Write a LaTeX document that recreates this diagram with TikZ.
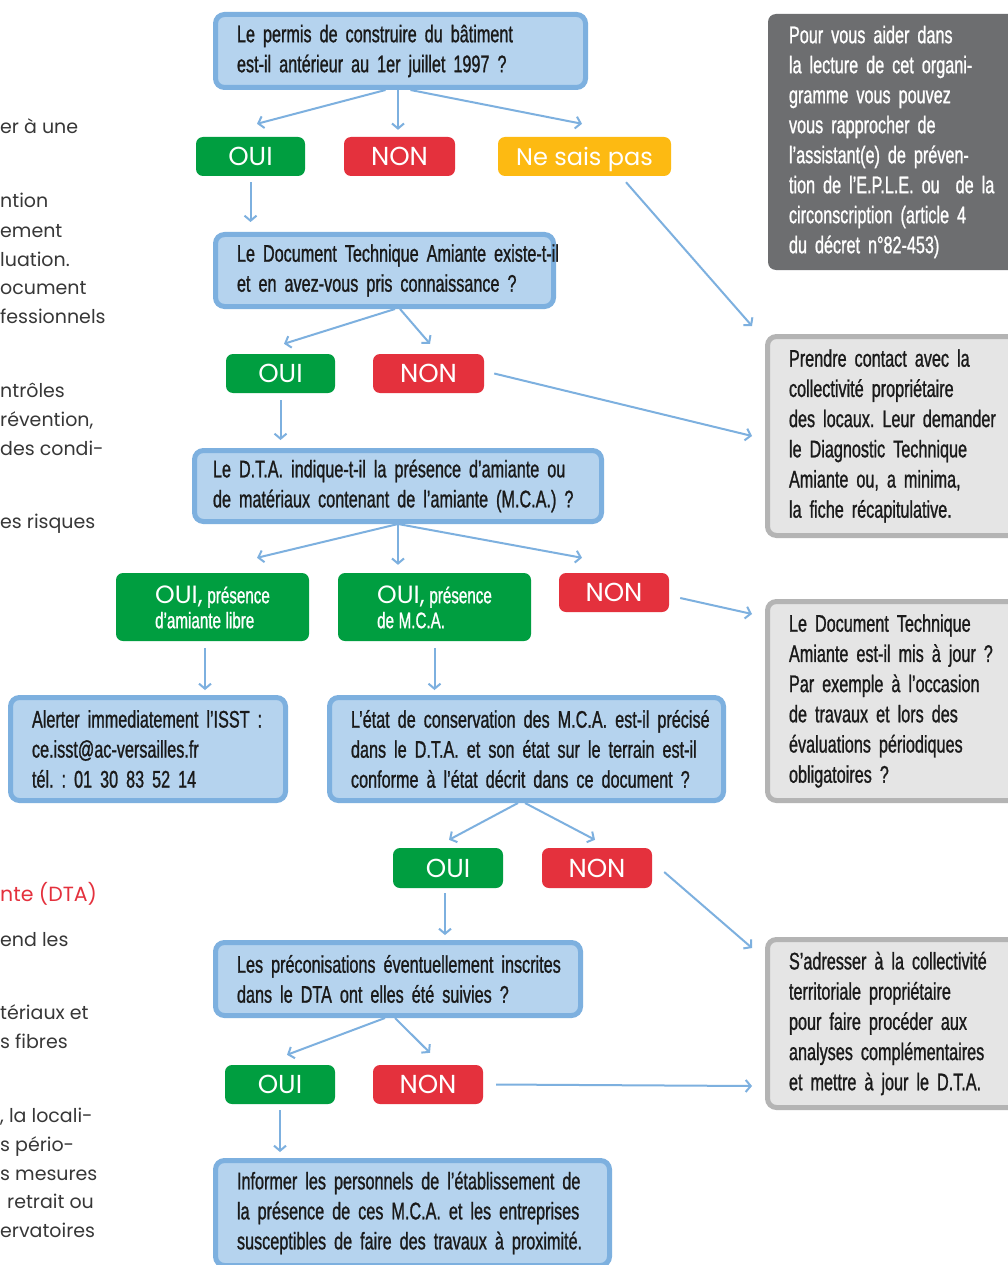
\documentclass[tikz,border=0pt]{standalone}
\usepackage{fontspec}
\setmainfont{Liberation Sans}
\newfontfamily\condf[FakeStretch=0.675,FakeBold=1]{Liberation Sans}
\newfontfamily\geof{Poppins}
\usetikzlibrary{arrows.meta}
\newcommand\ml[1]{\mbox{#1}}
\newcommand\cfont[3]{\condf\frenchspacing\fontsize{#1}{#2}\selectfont\fontdimen2\font=#3\fontdimen3\font=0pt\fontdimen4\font=0pt\relax}
\definecolor{qfill}{RGB}{181,211,238}
\definecolor{qline}{RGB}{125,176,223}
\definecolor{arrc}{RGB}{125,176,223}
\definecolor{ouig}{RGB}{0,158,64}
\definecolor{nonr}{RGB}{228,49,61}
\definecolor{nspy}{RGB}{253,186,18}
\definecolor{rfill}{RGB}{229,229,229}
\definecolor{rline}{RGB}{180,180,180}
\definecolor{darkbox}{RGB}{109,110,112}
\definecolor{txt}{RGB}{26,26,26}
\definecolor{sidetxt}{RGB}{55,55,55}
\definecolor{sidered}{RGB}{228,49,61}
\tikzset{
  qbox/.style={draw=qline, fill=qfill, line width=5pt, rounded corners=9pt, inner sep=0pt,
    align=left, text=txt, font=\cfont{24}{30}{5.2pt}},
  rbox/.style={draw=rline, fill=rfill, line width=5pt, rounded corners=9pt, inner sep=0pt,
    align=left, text=txt, font=\cfont{24}{30.2}{5.2pt}},
  dbox/.style={fill=darkbox, rounded corners=8pt, inner sep=0pt,
    align=left, text=white, font=\cfont{24}{30}{5.2pt}},
  pill/.style={fill=#1, rounded corners=7pt, inner sep=0pt, text=white, text depth=0pt,
    font=\geof\fontsize{26}{26}\selectfont},
  pill2/.style={fill=#1, rounded corners=7pt, inner sep=0pt, text=white, align=left,
    font=\cfont{22.5}{25}{4.6pt}},
  arr/.style={draw=arrc, line width=2pt, -{Straight Barb[length=5pt,width=12pt]}},
  side/.style={inner sep=0pt, anchor=base west, text=sidetxt, font=\geof\fontsize{19}{19}\selectfont},
}
\begin{document}
\begin{tikzpicture}[x=1pt,y=-1pt]
\useasboundingbox (0,0) rectangle (1008,1265);
\clip (0,0) rectangle (1008,1265);
\fill[white] (0,0) rectangle (1008,1265);

% cut-off side column
\node[side] (s1) at (0,134) {er à une};
\node[side] (s2) at (0,208) {ntion};
\node[side] (s3) at (0,237) {ement};
\node[side] (s4) at (0,266) {luation.};
\node[side] (s5) at (0,294) {ocument};
\node[side] (s6) at (0,323) {fessionnels};
\node[side] (s7) at (0,397) {ntrôles};
\node[side] (s8) at (0,426) {révention,};
\node[side] (s9) at (0,455) {des condi-};
\node[side] (s10) at (0,528) {es risques};
\node[side, text=sidered, font=\geof\fontsize{20.5}{20.5}\selectfont] (s11) at (0,901) {nte (DTA)};
\node[side] (s12) at (0,946) {end les};
\node[side] (s13) at (0,1019) {tériaux et};
\node[side] (s14) at (0,1048) {s fibres};
\node[side] (s15) at (0,1122) {, la locali-};
\node[side] (s16) at (0,1151) {s pério-};
\node[side] (s17) at (0,1180) {s mesures};
\node[side] (s18) at (7,1208) {retrait ou};
\node[side] (s19) at (0,1237) {ervatoires};

% question boxes
\node[qbox, minimum width=370pt, minimum height=73pt, text width=327pt] (q1) at (400.5,51)
  {\ml{Le permis de construire du bâtiment}\\\ml{est-il antérieur au 1er juillet 1997 ?}};
\node[qbox, minimum width=338pt, minimum height=72pt, text width=295pt] (q2) at (384.5,270.5)
  {\ml{Le Document Technique Amiante existe-t-il}\\\ml{et en avez-vous pris connaissance ?}};
\node[qbox, minimum width=407pt, minimum height=71pt, text width=370pt] (q3) at (398,486)
  {\ml{Le D.T.A. indique-t-il la présence d’amiante ou}\\\ml{de matériaux contenant de l’amiante (M.C.A.) ?}};
\node[qbox, minimum width=275pt, minimum height=103pt, text width=232pt] (alert) at (148,749)
  {\ml{Alerter immediatement l’ISST :}\\\ml{ce.isst@ac-versailles.fr}\\\ml{tél. : 01 30 83 52 14}};
\node[qbox, minimum width=394pt, minimum height=103pt, text width=351pt] (etat) at (526.5,749)
  {\ml{L’état de conservation des M.C.A. est-il précisé}\\\ml{dans le D.T.A. et son état sur le terrain est-il}\\\ml{conforme à l’état décrit dans ce document ?}};
\node[qbox, minimum width=365pt, minimum height=73pt, text width=322pt] (preco) at (398,979)
  {\ml{Les préconisations éventuellement inscrites}\\\ml{dans le DTA ont elles été suivies ?}};
\node[qbox, minimum width=394pt, minimum height=105pt, text width=351pt] (inform) at (412.5,1213)
  {\ml{Informer les personnels de l’établissement de}\\\ml{la présence de ces M.C.A. et les entreprises}\\\ml{susceptibles de faire des travaux à proximité.}};

% right boxes
\node[dbox, minimum width=320pt, minimum height=256pt, text width=278pt] (help) at (928,142)
  {\ml{Pour vous aider dans}\\\ml{la lecture de cet organi-}\\\ml{gramme vous pouvez}\\\ml{vous rapprocher de}\\\ml{l’assistant(e) de préven-}\\\ml{tion de l’E.P.L.E. ou~ de la}\\\ml{circonscription (article 4}\\\ml{du décret n°82-453)}};
\node[rbox, minimum width=320pt, minimum height=199pt, text width=277pt] (r1) at (927.5,436)
  {\ml{Prendre contact avec la}\\\ml{collectivité propriétaire}\\\ml{des locaux. Leur demander}\\\ml{le Diagnostic Technique}\\\ml{Amiante ou, a minima,}\\\ml{la fiche récapitulative.}};
\node[rbox, minimum width=320pt, minimum height=199pt, text width=277pt] (r2) at (927.5,701)
  {\ml{Le Document Technique}\\\ml{Amiante est-il mis à jour ?}\\\ml{Par exemple à l’occasion}\\\ml{de travaux et lors des}\\\ml{évaluations périodiques}\\\ml{obligatoires ?}};
\node[rbox, minimum width=320pt, minimum height=168pt, text width=277pt] (r3) at (927.5,1023.5)
  {\ml{S’adresser à la collectivité}\\\ml{territoriale propriétaire}\\\ml{pour faire procéder aux}\\\ml{analyses complémentaires}\\\ml{et mettre à jour le D.T.A.}};

% pills
\node[pill=ouig, minimum width=109pt, minimum height=39pt] (p1oui) at (250.5,156.5) {OUI};
\node[pill=nonr, minimum width=111pt, minimum height=39pt] (p1non) at (399.5,156.5) {NON};
\node[pill=nspy, minimum width=173pt, minimum height=39pt, font=\geof\fontsize{24}{24}\selectfont] (p1ne) at (584.5,156.5) {Ne sais pas};
\node[pill=ouig, minimum width=109pt, minimum height=39pt] (p2oui) at (280.5,373.5) {OUI};
\node[pill=nonr, minimum width=111pt, minimum height=39pt] (p2non) at (428.5,373.5) {NON};
\node[pill2=ouig, minimum width=193pt, minimum height=68pt] (p3a) at (212.5,607)
  {{\geof\fontsize{25}{25}\selectfont OUI,} présence\\d’amiante libre};
\node[pill2=ouig, minimum width=193pt, minimum height=68pt] (p3b) at (434.5,607)
  {{\geof\fontsize{25}{25}\selectfont OUI,} présence\\de M.C.A.};
\node[pill=nonr, minimum width=110pt, minimum height=39pt] (p3non) at (614,592.5) {NON};
\node[pill=ouig, minimum width=110pt, minimum height=40pt] (p4oui) at (448,868) {OUI};
\node[pill=nonr, minimum width=110pt, minimum height=40pt] (p4non) at (597,868) {NON};
\node[pill=ouig, minimum width=110pt, minimum height=39pt] (p5oui) at (280,1084.5) {OUI};
\node[pill=nonr, minimum width=110pt, minimum height=39pt] (p5non) at (428,1084.5) {NON};

% connectors
\draw[arr] ([xshift=-15pt]q1.south) -- ([xshift=6.5pt,yshift=13pt]p1oui.north);
\draw[arr] ([xshift=-2.5pt]q1.south) -- ([xshift=-1.5pt,yshift=7pt]p1non.north);
\draw[arr] ([xshift=10pt]q1.south) -- ([xshift=-2.5pt,yshift=13pt]p1ne.north);
\draw[arr] ([yshift=-6pt]p1oui.south) -- ([yshift=10pt]p1oui.south |- q2.north);
\draw[arr] ([xshift=41.5pt,yshift=-6pt]p1ne.south) -- ([xshift=-13pt,yshift=8pt]r1.north west);
\draw[arr] ([xshift=10.5pt]q2.south) -- ([xshift=3.5pt,yshift=10pt]p2oui.north);
\draw[arr] ([xshift=15.5pt]q2.south) -- ([xshift=1.5pt,yshift=10pt]p2non.north);
\draw[arr] ([xshift=10pt]p2non.east) -- ([xshift=-13pt]r1.west);
\draw[arr] ([yshift=-7pt]p2oui.south) -- ([yshift=8pt]p2oui.south |- q3.north);
\draw[arr] (q3.south) -- ([xshift=44.5pt,yshift=15pt]p3a.north);
\draw[arr] (q3.south) -- ([yshift=8pt]q3.south |- p3b.north);
\draw[arr] (q3.south) -- ([xshift=-32pt,yshift=15pt]p3non.north);
\draw[arr] ([xshift=11pt,yshift=-5.5pt]p3non.east) -- ([xshift=-13pt,yshift=-15pt]r2.north west);
\draw[arr] ([xshift=-7.5pt,yshift=-7pt]p3a.south) -- ([xshift=-7.5pt,yshift=5pt]p3a.south |- alert.north);
\draw[arr] ([yshift=-7pt]p3b.south) -- ([yshift=5pt]p3b.south |- etat.north);
\draw[arr] ([xshift=-8.5pt]etat.south) -- ([xshift=1pt,yshift=8pt]p4oui.north);
\draw[arr] ([xshift=-1.5pt]etat.south) -- ([xshift=-2pt,yshift=8pt]p4non.north);
\draw[arr] ([xshift=12pt,yshift=-4pt]p4non.east) -- ([xshift=-13pt,yshift=-11pt]r3.north west);
\draw[arr] ([xshift=-3pt,yshift=-5pt]p4oui.south) -- ([xshift=-3pt,yshift=5pt]p4oui.south |- preco.north);
\draw[arr] ([xshift=-13pt]preco.south) -- ([xshift=7pt,yshift=10pt]p5oui.north);
\draw[arr] ([xshift=-3pt]preco.south) -- ([xshift=2pt,yshift=12pt]p5non.north);
\draw[arr] ([xshift=13pt]p5non.east) -- ([xshift=-13pt,yshift=24pt]r3.south west);
\draw[arr] ([yshift=-6pt]p5oui.south) -- ([yshift=6pt]p5oui.south |- inform.north);
\end{tikzpicture}
\end{document}
